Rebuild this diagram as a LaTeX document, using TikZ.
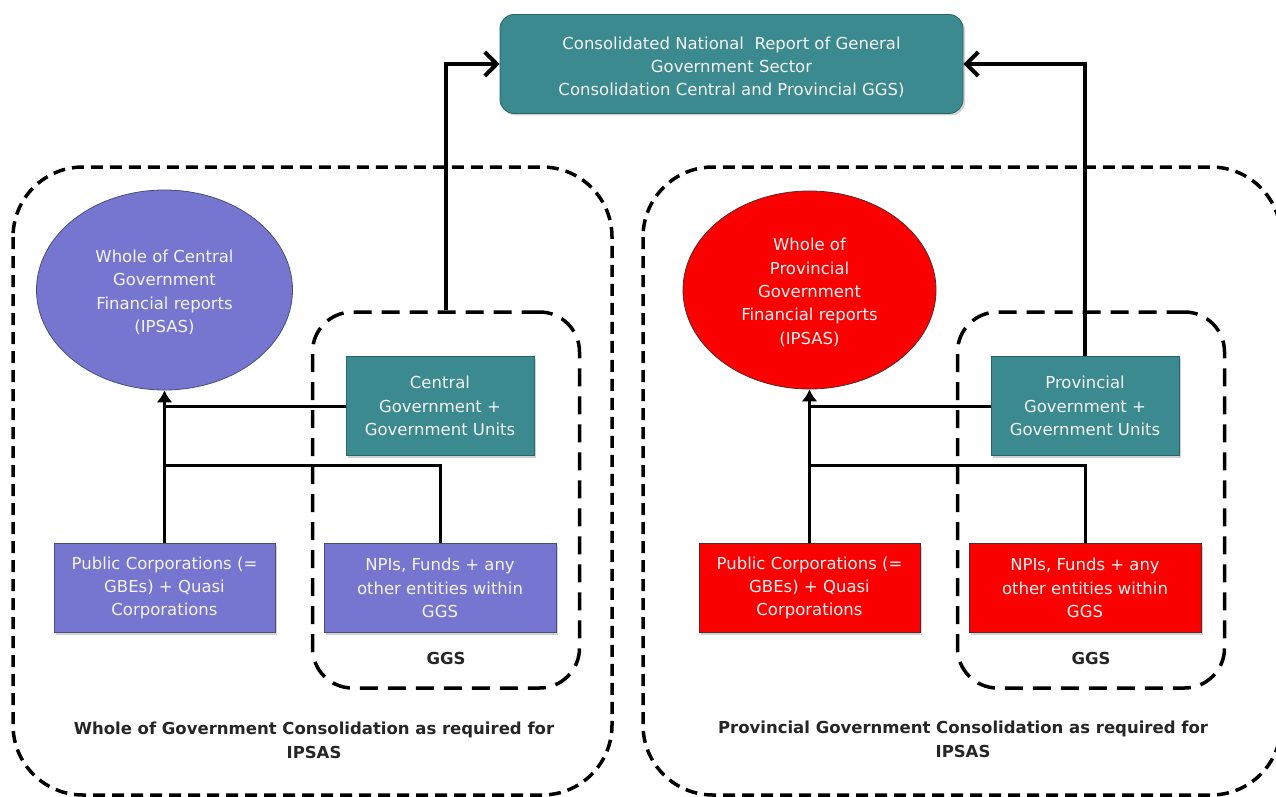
\documentclass[tikz,border=0pt]{standalone}
\usepackage{fontspec}
\setmainfont{DejaVu Sans}
\usetikzlibrary{arrows.meta,shapes.geometric,shadows,calc}
\definecolor{tealbox}{RGB}{59,138,143}
\definecolor{tealedge}{RGB}{40,100,104}
\definecolor{purplebox}{RGB}{118,118,208}
\definecolor{purpleedge}{RGB}{70,80,120}
\definecolor{redbox}{RGB}{250,0,0}
\definecolor{rededge}{RGB}{90,40,40}
\definecolor{lighttext}{RGB}{244,244,244}
\begin{document}
\begin{tikzpicture}[x=1pt,y=-1pt,
  txt/.style={font=\fontsize{16.5}{23.3}\selectfont, text=lighttext, align=center, inner sep=0pt},
  shade/.style={drop shadow={opacity=0.35, shadow xshift=2pt, shadow yshift=-2pt}},
  tealrect/.style={txt, rectangle, fill=tealbox, draw=tealedge, line width=0.8pt, shade},
  purplerect/.style={txt, rectangle, fill=purplebox, draw=purpleedge, line width=0.8pt, shade},
  redrect/.style={txt, rectangle, fill=redbox, draw=rededge, line width=0.8pt, shade},
  purpleoval/.style={txt, ellipse, fill=purplebox, draw=purpleedge, line width=0.8pt},
  redoval/.style={txt, ellipse, fill=redbox, draw=rededge, line width=0.8pt},
  outerbox/.style={draw=black, line width=3.5pt, dash pattern=on 12pt off 7pt, rounded corners=70pt},
  ggsbox/.style={draw=black, line width=3.5pt, dash pattern=on 18pt off 10pt, rounded corners=40pt, minimum width=267pt, minimum height=376pt, inner sep=0pt},
  caption/.style={font=\bfseries\fontsize{16.5}{24}\selectfont, text=black!85, align=center, inner sep=0pt},
  conn/.style={draw=black, line width=3pt},
  bigarrow/.style={draw=black, line width=4pt, -{Straight Barb[length=12pt,width=24pt,line width=4pt]}},
  smallarrow/.style={draw=black, line width=3pt, -{Latex[length=12pt,width=16pt]}}
]
\useasboundingbox (0,0) rectangle (1276,797);
\fill[white] (0,0) rectangle (1276,797);

% ---- national report ----
\node[tealrect, rounded corners=14pt, minimum width=463pt, minimum height=99pt] (top) at (731.5,64)
  {\rule{0pt}{19pt}Consolidated National~ Report of General\\Government Sector\\Consolidation Central and Provincial GGS)};

% ---- central government consolidation (left) ----
\draw[outerbox] (13,167) rectangle (612,795);
\node[ggsbox] (ggsL) at (446,500) {};
\node[purpleoval, minimum width=256pt, minimum height=200pt] (ellL) at (164.5,290)
  {\rule{0pt}{17pt}Whole of Central\\Government\\Financial reports\\(IPSAS)};
\node[tealrect, minimum width=188pt, minimum height=99pt] (cgL) at (440,406)
  {Central\\Government +\\Government Units};
\node[purplerect, minimum width=221pt, minimum height=89pt] (pcL) at (164.5,588)
  {Public Corporations (=\\GBEs) + Quasi\\Corporations};
\node[purplerect, minimum width=232pt, minimum height=89pt] (npiL) at (440,588)
  {NPIs, Funds + any\\other entities within\\GGS};
\node[caption] (ggsLabL) at (446,658) {GGS};
\node[caption] (capL) at (314,740) {Whole of Government Consolidation as required for\\IPSAS};

\coordinate (jL) at (pcL.north |- 0,465);
\draw[conn] (pcL.north) -- (jL) -| (npiL.north);
\draw[conn] (jL) -- (ellL.south |- cgL.west);
\draw[smallarrow] (cgL.west) -| (ellL.south);
\draw[bigarrow] (ggsL.north) |- (top.west);

% ---- provincial government consolidation (right) ----
\draw[outerbox] (643,167) rectangle (1281,795);
\node[ggsbox] (ggsR) at (1091,500) {};
\node[redoval, minimum width=253pt, minimum height=198pt] (ellR) at (809.5,290)
  {\rule{0pt}{17pt}Whole of\\Provincial\\Government\\Financial reports\\(IPSAS)};
\node[tealrect, minimum width=188pt, minimum height=99pt] (pgR) at (1085,406)
  {Provincial\\Government +\\Government Units};
\node[redrect, minimum width=221pt, minimum height=89pt] (pcR) at (809.5,588)
  {Public Corporations (=\\GBEs) + Quasi\\Corporations};
\node[redrect, minimum width=232pt, minimum height=89pt] (npiR) at (1085,588)
  {NPIs, Funds + any\\other entities within\\GGS};
\node[caption] (ggsLabR) at (1091,658) {GGS};
\node[caption] (capR) at (963,739) {Provincial Government Consolidation as required for\\IPSAS};

\coordinate (jR) at (pcR.north |- 0,465);
\draw[conn] (pcR.north) -- (jR) -| (npiR.north);
\draw[conn] (jR) -- (ellR.south |- pgR.west);
\draw[smallarrow] (pgR.west) -| (ellR.south);
\draw[bigarrow] (pgR.north) |- (top.east);
\end{tikzpicture}
\end{document}
